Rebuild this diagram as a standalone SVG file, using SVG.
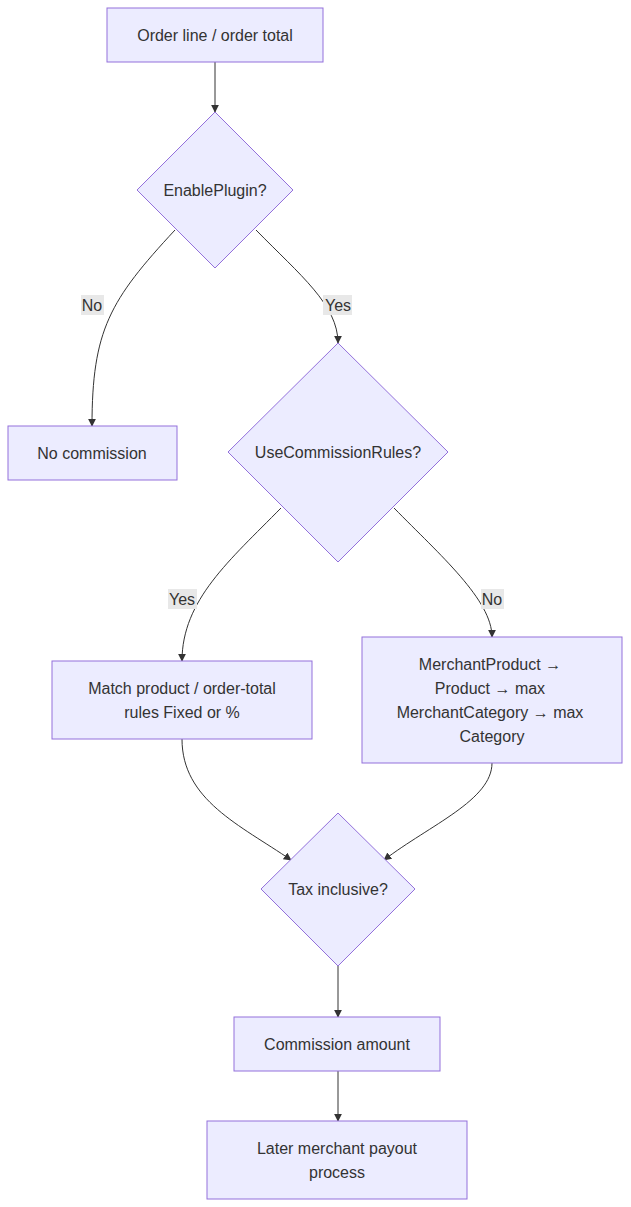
<svg xmlns="http://www.w3.org/2000/svg" width="631" height="1207" viewBox="0 0 631 1207">
<style>
.n{fill:#ECECFF;stroke:#9370DB;stroke-width:1}
.t{font-family:"Liberation Sans",Arial,sans-serif;font-size:16px;fill:#333;text-anchor:middle;dominant-baseline:central}
.e{fill:none;stroke:#333;stroke-width:1}
.lb{fill:#e8e8e8}
</style>
<defs><marker id="a" viewBox="0 0 10 10" refX="9" refY="5" markerWidth="8" markerHeight="8" orient="auto"><path d="M0,0L10,5L0,10z" fill="#333"/></marker></defs>
<rect width="631" height="1207" fill="#fff"/>
<g id="edges">
<path class="e" d="M215,62L215,112" marker-end="url(#a)"/>
<path class="e" d="M175,230C110,300 92,330 92,426" marker-end="url(#a)"/>
<path class="e" d="M256,230C300,275 338,305 338,343" marker-end="url(#a)"/>
<path class="e" d="M281,508C230,560 182,600 182,661" marker-end="url(#a)"/>
<path class="e" d="M394,508C440,555 492,600 492,637" marker-end="url(#a)"/>
<path class="e" d="M182,739C182,800 240,825 291,860" marker-end="url(#a)"/>
<path class="e" d="M492,763C492,800 430,825 384,860" marker-end="url(#a)"/>
<path class="e" d="M338,966L338,1017" marker-end="url(#a)"/>
<path class="e" d="M338,1071L338,1121" marker-end="url(#a)"/>
<rect class="lb" x="81" y="295" width="23" height="20"/><text class="t" x="92" y="305">No</text>
<rect class="lb" x="323" y="295" width="29" height="20"/><text class="t" x="338" y="305">Yes</text>
<rect class="lb" x="168" y="589" width="29" height="20"/><text class="t" x="182" y="599">Yes</text>
<rect class="lb" x="481" y="589" width="23" height="20"/><text class="t" x="492" y="599">No</text>
</g>
<g id="A"><rect class="n" x="107" y="8" width="216" height="54"/><text class="t" x="215" y="35">Order line / order total</text></g>
<g id="B"><polygon class="n" points="215,112 293,190 215,268 137,190"/><text class="t" x="215" y="190">EnablePlugin?</text></g>
<g id="N"><rect class="n" x="8" y="426" width="169" height="54"/><text class="t" x="92" y="453">No commission</text></g>
<g id="C"><polygon class="n" points="338,343 448,452 338,562 228,452"/><text class="t" x="338" y="452">UseCommissionRules?</text></g>
<g id="M"><rect class="n" x="52" y="661" width="260" height="78"/><text class="t" x="182" y="688">Match product / order-total</text><text class="t" x="182" y="712">rules Fixed or %</text></g>
<g id="P"><rect class="n" x="362" y="637" width="260" height="126"/><text class="t" x="490" y="664">MerchantProduct →</text><text class="t" x="490" y="688">Product → max</text><text class="t" x="490" y="712">MerchantCategory → max</text><text class="t" x="492" y="736">Category</text></g>
<g id="T"><polygon class="n" points="338,813 415,889 338,966 261,889"/><text class="t" x="338" y="889">Tax inclusive?</text></g>
<g id="CA"><rect class="n" x="234" y="1017" width="206" height="54"/><text class="t" x="337" y="1044">Commission amount</text></g>
<g id="L"><rect class="n" x="207" y="1121" width="260" height="78"/><text class="t" x="337" y="1148">Later merchant payout</text><text class="t" x="337" y="1172">process</text></g>
</svg>
